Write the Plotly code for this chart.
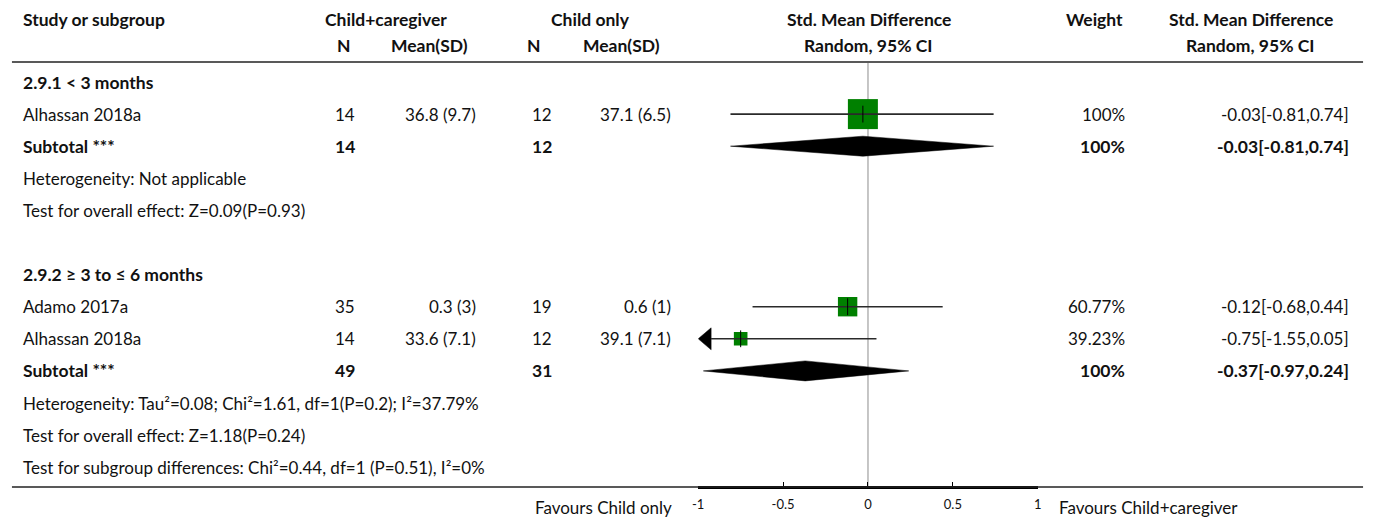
import plotly.graph_objects as go

# ---------------- data ----------------
group_titles = ["2.9.1 < 3 months", "2.9.2 ≥ 3 to ≤ 6 months"]
study_group = [0, 1, 1]
study_names = ["Alhassan 2018a", "Adamo 2017a", "Alhassan 2018a"]
n_cg = [14, 35, 14]
mean_cg = [36.8, 0.3, 33.6]
sd_cg = [9.7, 3, 7.1]
n_c = [12, 19, 12]
mean_c = [37.1, 0.6, 39.1]
sd_c = [6.5, 1, 7.1]
smd = [-0.03, -0.12, -0.75]
smd_lo = [-0.81, -0.68, -1.55]
smd_hi = [0.74, 0.44, 0.05]
weight = [100, 60.77, 39.23]

sub_n_cg = [14, 49]
sub_n_c = [12, 31]
sub_weight = [100, 100]
sub_smd = [-0.03, -0.37]
sub_lo = [-0.81, -0.97]
sub_hi = [0.74, 0.24]
heterogeneity = [
    "Heterogeneity: Not applicable",
    "Heterogeneity: Tau²=0.08; Chi²=1.61, df=1(P=0.2); I²=37.79%",
]
overall_effect = [
    "Test for overall effect: Z=0.09(P=0.93)",
    "Test for overall effect: Z=1.18(P=0.24)",
]
subgroup_test = "Test for subgroup differences: Chi²=0.44, df=1 (P=0.51), I²=0%"

axis_ticks = [-1, -0.5, 0, 0.5, 1]
tick_labels = ["-1", "-0.5", "0", "0.5", "1"]
favours_left = "Favours Child only"
favours_right = "Favours Child+caregiver"

# ---------------- layout constants ----------------
W, H = 1375, 517
FONT = "Lato"
FS = 17
FS_BOLD = 17.5
TXT = "#111111"
GREEN = "#008000"
X_MIN, X_MAX = -1, 1
AX_LEFT_PX, AX_RIGHT_PX = 697.3, 1039.3
ROW0_PX, ROW_STEP = 82, 32.1
HEADER_RULE_PX, BOTTOM_RULE_PX = 62, 487
PX_PER_UNIT = (AX_RIGHT_PX - AX_LEFT_PX) / (X_MAX - X_MIN)
PAD_LEFT, PAD_RIGHT = 7, 2  # compensate annotation box padding

# text column anchors (pixel x)
COL_LABEL = 22
COL_NCG, COL_MCG, COL_NC, COL_MC = 352, 473, 550, 670
COL_W, COL_CI = 1127, 1353


def px(x):
    return x / W


def py(y):
    return 1 - y / H


def rows_from_px(dpx):
    return dpx / ROW_STEP


# assign table rows
study_rows = []
title_rows, sub_rows, het_rows, ov_rows = [], [], [], []
r = 0
for g, title in enumerate(group_titles):
    if g > 0:
        r += 1  # blank spacer row
    title_rows.append(r)
    r += 1
    for i, sg in enumerate(study_group):
        if sg == g:
            study_rows.append(r)
            r += 1
    sub_rows.append(r)
    r += 1
    het_rows.append(r)
    r += 1
    ov_rows.append(r)
    r += 1
subgroup_test_row = r

fig = go.Figure()

# study squares (size grows with weight)
fig.add_trace(go.Scatter(
    x=smd, y=study_rows, mode="markers",
    marker=dict(symbol="square", color=GREEN, opacity=1,
                size=[3 + 27 * w / 100 for w in weight], line=dict(width=0)),
    hoverinfo="skip", showlegend=False,
))

# confidence interval lines and clip arrows
arrow_len = 13 / PX_PER_UNIT
arrow_half = rows_from_px(11)
ci_x, ci_y = [], []
arrow_x, arrow_y = [], []
for est, lo, hi, row in zip(smd, smd_lo, smd_hi, study_rows):
    left = lo
    right = hi
    if lo < X_MIN:
        left = X_MIN + arrow_len
        arrow_x += [X_MIN, left, left, X_MIN, None]
        arrow_y += [row, row - arrow_half, row + arrow_half, row, None]
    if hi > X_MAX:
        right = X_MAX - arrow_len
        arrow_x += [X_MAX, right, right, X_MAX, None]
        arrow_y += [row, row - arrow_half, row + arrow_half, row, None]
    ci_x += [left, right, None]
    ci_y += [row, row, None]

fig.add_trace(go.Scatter(
    x=ci_x, y=ci_y, mode="lines", line=dict(color="#2a2a2a", width=1.6),
    hoverinfo="skip", showlegend=False,
))
if arrow_x:
    fig.add_trace(go.Scatter(
        x=arrow_x, y=arrow_y, mode="lines", fill="toself",
        fillcolor="black", line=dict(color="black", width=0.5),
        hoverinfo="skip", showlegend=False,
    ))

# point-estimate ticks
fig.add_trace(go.Scatter(
    x=smd, y=study_rows, mode="markers",
    marker=dict(symbol="line-ns", size=12, opacity=1,
                line=dict(color="black", width=1)),
    hoverinfo="skip", showlegend=False,
))

# subtotal diamonds
dh = rows_from_px(10)
dx, dy = [], []
for est, lo, hi, row in zip(sub_smd, sub_lo, sub_hi, sub_rows):
    dx += [lo, est, hi, est, lo, None]
    dy += [row, row - dh, row, row + dh, row, None]
fig.add_trace(go.Scatter(
    x=dx, y=dy, mode="lines", fill="toself", fillcolor="black",
    line=dict(color="black", width=0.5), hoverinfo="skip", showlegend=False,
))

# ---------------- text ----------------
ann = []


def text(s, x, y, anchor, bold=False, yref="y"):
    if anchor == "left":
        x -= PAD_LEFT
    elif anchor == "right":
        x += PAD_RIGHT
    ann.append(dict(
        text=f"<b>{s}</b>" if bold else s, x=px(x), xref="paper",
        y=y, yref=yref, xanchor=anchor, yanchor="middle", showarrow=False,
        font=dict(family=FONT, size=FS_BOLD if bold else FS, color=TXT),
    ))


# column headers
h1, h2 = py(20), py(45)
text("Study or subgroup", COL_LABEL, h1, "left", True, "paper")
text("Child+caregiver", 383, h1, "center", True, "paper")
text("Child only", 589, h1, "center", True, "paper")
text("Std. Mean Difference", 869, h1, "center", True, "paper")
text("Weight", 1125, h1, "right", True, "paper")
text("Std. Mean Difference", 1254, h1, "center", True, "paper")
text("N", 340, h2, "center", True, "paper")
text("Mean(SD)", 427, h2, "center", True, "paper")
text("N", 531, h2, "center", True, "paper")
text("Mean(SD)", 620, h2, "center", True, "paper")
text("Random, 95% CI", 869, h2, "center", True, "paper")
text("Random, 95% CI", 1254, h2, "center", True, "paper")


def ci_str(e, lo, hi):
    return f"{e:.2f}[{lo:.2f},{hi:.2f}]"


for g, title in enumerate(group_titles):
    text(title, COL_LABEL, title_rows[g], "left", True)
    text("Subtotal ***", COL_LABEL, sub_rows[g], "left", True)
    text(str(sub_n_cg[g]), COL_NCG, sub_rows[g], "right", True)
    text(str(sub_n_c[g]), COL_NC, sub_rows[g], "right", True)
    text(f"{sub_weight[g]:g}%", COL_W, sub_rows[g], "right", True)
    text(ci_str(sub_smd[g], sub_lo[g], sub_hi[g]), COL_CI, sub_rows[g], "right", True)
    text(heterogeneity[g], COL_LABEL, het_rows[g], "left")
    text(overall_effect[g], COL_LABEL, ov_rows[g], "left")

for i, row in enumerate(study_rows):
    text(study_names[i], COL_LABEL, row, "left")
    text(str(n_cg[i]), COL_NCG, row, "right")
    text(f"{mean_cg[i]:g} ({sd_cg[i]:g})", COL_MCG, row, "right")
    text(str(n_c[i]), COL_NC, row, "right")
    text(f"{mean_c[i]:g} ({sd_c[i]:g})", COL_MC, row, "right")
    text(f"{weight[i]:g}%", COL_W, row, "right")
    text(ci_str(smd[i], smd_lo[i], smd_hi[i]), COL_CI, row, "right")

text(subgroup_test, COL_LABEL, subgroup_test_row, "left")
text(favours_left, 671, py(507), "right", yref="paper")
text(favours_right, 1066, py(507), "left", yref="paper")

# ---------------- rules ----------------
shapes = [
    dict(type="line", xref="paper", yref="paper", x0=px(6), x1=px(1367),
         y0=py(HEADER_RULE_PX), y1=py(HEADER_RULE_PX),
         line=dict(color="#222222", width=1.5)),
    dict(type="line", xref="paper", yref="paper", x0=px(6), x1=px(1367),
         y0=py(BOTTOM_RULE_PX), y1=py(BOTTOM_RULE_PX),
         line=dict(color="#222222", width=1.5)),
    dict(type="line", xref="x", yref="paper", x0=0, x1=0,
         y0=py(HEADER_RULE_PX + 1), y1=py(BOTTOM_RULE_PX),
         line=dict(color="#8c8c8c", width=1), layer="below"),
]

y_top = -ROW0_PX / ROW_STEP
y_bot = (H - ROW0_PX) / ROW_STEP

fig.update_layout(
    width=W, height=H,
    margin=dict(l=0, r=0, t=0, b=0),
    paper_bgcolor="white", plot_bgcolor="white",
    showlegend=False,
    annotations=ann, shapes=shapes,
    xaxis=dict(
        domain=[px(AX_LEFT_PX), px(AX_RIGHT_PX)], range=[X_MIN, X_MAX],
        anchor="free", position=py(BOTTOM_RULE_PX),
        showgrid=False, zeroline=False,
        showline=True, linecolor="black", linewidth=2.5,
        ticks="inside", ticklen=4, tickwidth=1, tickcolor="black",
        tickvals=axis_ticks, ticktext=tick_labels,
        tickfont=dict(family=FONT, size=13, color=TXT),
        ticklabelstandoff=5,
        fixedrange=True,
    ),
    yaxis=dict(
        domain=[0, 1], range=[y_bot, y_top], visible=False, fixedrange=True,
    ),
)

fig.write_html("out.html")
